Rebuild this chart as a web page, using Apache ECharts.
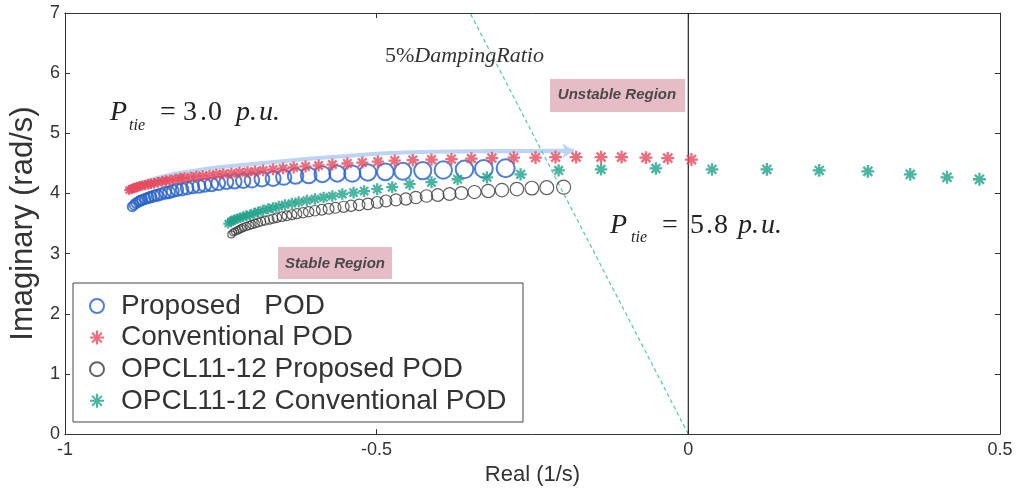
<!DOCTYPE html>
<html><head><meta charset="utf-8">
<script src="https://cdn.jsdelivr.net/npm/echarts@6/dist/echarts.min.js"></script>
<style>html,body{margin:0;padding:0;background:#fff}#c{width:1019px;height:491px}</style>
</head><body><div id="c"></div>
<script>
// ---------- data ----------
const xTickInterval = 0.5;
const yTickInterval = 1;
const seriesNames = ['Proposed   POD', 'Conventional POD', 'OPCL11-12 Proposed POD', 'OPCL11-12 Conventional POD'];

const propX = [-0.892,-0.889,-0.886,-0.882,-0.879,-0.876,-0.871,-0.866,-0.862,-0.857,-0.852,-0.846,-0.839,-0.833,-0.827,-0.820,-0.812,-0.804,-0.795,-0.785,-0.776,-0.765,-0.754,-0.741,-0.728,-0.714,-0.700,-0.684,-0.666,-0.649,-0.630,-0.609,-0.587,-0.563,-0.539,-0.514,-0.486,-0.458,-0.426,-0.393,-0.359,-0.328,-0.293];
const propY = [3.78,3.81,3.84,3.86,3.88,3.89,3.91,3.93,3.94,3.96,3.97,3.99,4.01,4.02,4.04,4.06,4.07,4.09,4.11,4.12,4.14,4.15,4.17,4.19,4.20,4.21,4.22,4.24,4.25,4.27,4.29,4.30,4.32,4.33,4.33,4.35,4.36,4.37,4.38,4.39,4.40,4.41,4.42];

const convX = [-0.897,-0.893,-0.890,-0.887,-0.884,-0.880,-0.876,-0.871,-0.866,-0.862,-0.857,-0.851,-0.844,-0.838,-0.831,-0.823,-0.815,-0.808,-0.798,-0.789,-0.779,-0.768,-0.757,-0.746,-0.733,-0.720,-0.707,-0.695,-0.682,-0.666,-0.650,-0.633,-0.614,-0.593,-0.571,-0.547,-0.523,-0.498,-0.471,-0.442,-0.412,-0.380,-0.348,-0.315,-0.280,-0.245,-0.213,-0.180,-0.140,-0.107,-0.068,-0.033,0.005];
const convY = [4.056,4.073,4.089,4.097,4.105,4.122,4.130,4.138,4.154,4.163,4.171,4.187,4.203,4.212,4.220,4.236,4.253,4.261,4.269,4.285,4.293,4.302,4.318,4.326,4.334,4.351,4.359,4.367,4.383,4.400,4.416,4.432,4.449,4.465,4.481,4.498,4.514,4.530,4.547,4.555,4.563,4.571,4.580,4.588,4.596,4.596,4.604,4.604,4.604,4.604,4.596,4.588,4.563];

const opPropX = [-0.733,-0.730,-0.727,-0.723,-0.720,-0.717,-0.714,-0.709,-0.704,-0.700,-0.695,-0.690,-0.685,-0.679,-0.672,-0.666,-0.660,-0.652,-0.644,-0.636,-0.628,-0.618,-0.609,-0.599,-0.588,-0.577,-0.566,-0.553,-0.541,-0.528,-0.514,-0.499,-0.485,-0.469,-0.453,-0.437,-0.420,-0.402,-0.383,-0.364,-0.343,-0.321,-0.299,-0.275,-0.251,-0.227,-0.200];
const opPropY = [3.320,3.353,3.369,3.386,3.402,3.418,3.435,3.451,3.467,3.484,3.500,3.516,3.533,3.549,3.566,3.582,3.598,3.615,3.631,3.647,3.664,3.680,3.696,3.713,3.729,3.745,3.762,3.778,3.795,3.811,3.827,3.852,3.876,3.893,3.909,3.934,3.958,3.974,3.991,4.007,4.024,4.040,4.056,4.073,4.089,4.097,4.105];

const opConvX = [-0.738,-0.734,-0.731,-0.728,-0.723,-0.719,-0.714,-0.709,-0.703,-0.696,-0.690,-0.682,-0.674,-0.666,-0.657,-0.647,-0.636,-0.625,-0.612,-0.599,-0.585,-0.571,-0.555,-0.537,-0.520,-0.499,-0.475,-0.447,-0.412,-0.370,-0.323,-0.269,-0.208,-0.140,-0.052,0.038,0.126,0.210,0.288,0.356,0.415,0.467];
const opConvY = [3.500,3.533,3.549,3.566,3.582,3.598,3.615,3.631,3.647,3.672,3.696,3.721,3.745,3.762,3.786,3.811,3.835,3.860,3.884,3.909,3.934,3.958,3.991,4.015,4.040,4.073,4.105,4.154,4.187,4.236,4.269,4.318,4.383,4.400,4.416,4.400,4.400,4.383,4.367,4.318,4.269,4.236];

const arrowX = [-0.903,-0.870,-0.836,-0.797,-0.757,-0.677,-0.566,-0.455,-0.328,-0.184];
const arrowY = [4.07,4.20,4.30,4.37,4.43,4.51,4.61,4.68,4.70,4.71];

const dampX = [0, -0.35];
const dampY = [0, 7];
const boundaryX = [0, 0];
const boundaryY = [0, 7];

// ---------- helpers ----------
const zip = (a, b) => a.map((v, i) => [v, b[i]]);
const STAR = 'path://M10 0L10 20M0 10L20 10M3 3L17 17M3 17L17 3';
const SANS = 'Liberation Sans';
const SERIF = 'Liberation Serif';
const growSize = (a, b, n) => (v, p) => a + (b - a) * p.dataIndex / (n - 1);

function mathLabel(x0, yb, pieces) {
  return pieces.map(([t, dx, it, fs, dy]) => ({
    type: 'text', x: x0 + dx, y: yb + (dy || 0) - 0.33 * fs, z: 100,
    style: { text: t, fontFamily: SERIF, fontSize: fs, fontStyle: it ? 'italic' : 'normal',
             fill: '#222', verticalAlign: 'middle', align: 'left' }
  }));
}

const chart = echarts.init(document.getElementById('c'));
const n = (arr) => arr.length;
const lastSeg = [[arrowX[n(arrowX)-2], arrowY[n(arrowY)-2]], [arrowX[n(arrowX)-1], arrowY[n(arrowY)-1]]];

const axisCommon = {
  min: -1, max: 0.5, interval: xTickInterval,
  axisLine: { onZero: false, lineStyle: { color: '#333', width: 1 } },
  axisTick: { inside: true, length: 5, lineStyle: { color: '#333' } },
  splitLine: { show: false }
};
const yCommon = {
  min: 0, max: 7, interval: yTickInterval,
  axisLine: { show: true, onZero: false, lineStyle: { color: '#333', width: 1 } },
  axisTick: { show: true, inside: true, length: 5, lineStyle: { color: '#333' } },
  splitLine: { show: false }
};

chart.setOption({
  animation: false,
  backgroundColor: '#fff',
  grid: { left: 57, right: 19, top: 13, bottom: 50 },
  xAxis: [
    Object.assign({ type: 'value', position: 'bottom', name: 'Real (1/s)', nameLocation: 'middle', nameGap: 29,
      nameTextStyle: { fontFamily: SANS, fontSize: 22, color: '#333' },
      axisLabel: { fontFamily: SANS, fontSize: 18, color: '#333', margin: 7 } }, axisCommon),
    Object.assign({ type: 'value', position: 'top', axisLabel: { show: false } }, axisCommon)
  ],
  yAxis: [
    Object.assign({ type: 'value', position: 'left', name: 'Imaginary (rad/s)', nameLocation: 'middle', nameGap: 22,
      nameTextStyle: { fontFamily: SANS, fontSize: 31, color: '#333' },
      axisLabel: { fontFamily: SANS, fontSize: 18, color: '#333', margin: 5 } }, yCommon),
    Object.assign({ type: 'value', position: 'right', axisLabel: { show: false } }, yCommon)
  ],
  legend: {
    data: seriesNames, orient: 'vertical', left: 84, top: 287, itemWidth: 22, itemHeight: 14, itemGap: 3.6,
    textStyle: { fontFamily: SANS, fontSize: 28, color: '#333', lineHeight: 27, padding: [0, 0, 0, 8] },
    selectedMode: false
  },
  graphic: [
    { type: 'rect', shape: { x: 73, y: 283, width: 450, height: 139 }, style: { fill: 'rgba(0,0,0,0)', stroke: '#444', lineWidth: 1 }, z: 50 },
    { type: 'rect', shape: { x: 550, y: 79, width: 135, height: 33 }, style: { fill: '#e6bcc6' }, z: 1 },
    { type: 'text', x: 617, y: 95, z: 100, style: { text: 'Unstable Region', fontFamily: SANS, fontSize: 15, fontWeight: 'bold', fontStyle: 'italic', fill: '#4a4a4a', align: 'center', verticalAlign: 'middle' } },
    { type: 'rect', shape: { x: 278, y: 247, width: 114, height: 32 }, style: { fill: '#e6bcc6' }, z: 1 },
    { type: 'text', x: 335, y: 264, z: 100, style: { text: 'Stable Region', fontFamily: SANS, fontSize: 15, fontWeight: 'bold', fontStyle: 'italic', fill: '#4a4a4a', align: 'center', verticalAlign: 'middle' } },
    { type: 'text', x: 385, y: 56, z: 100, style: { text: '{u|5%}{i|DampingRatio}', rich: {
        u: { fontFamily: SERIF, fontSize: 22, fill: '#333' },
        i: { fontFamily: SERIF, fontSize: 22, fontStyle: 'italic', fill: '#333' } }, verticalAlign: 'middle' } }
  ].concat(
    mathLabel(110, 122, [['P',0,1,28],['tie',19,1,16,9],['=',50,0,28],['3',73,0,28],['.',90,0,28],['0',98,0,28],['p.',126,1,28],['u.',149,1,28]]),
    mathLabel(610, 235, [['P',0,1,28],['tie',21,1,16,8],['=',52,0,28],['5',80,0,28],['.',96,0,28],['8',104,0,28],['p.',128,1,28],['u.',151,1,28]])
  ),
  series: [
    { type: 'line', name: 'arrow', data: zip(arrowX, arrowY), smooth: true, symbol: 'none', silent: true, z: 1,
      lineStyle: { color: '#bcd3f2', width: 4 } },
    { type: 'lines', coordinateSystem: 'cartesian2d', silent: true, z: 1, symbol: ['none', 'arrow'], symbolSize: 11,
      data: [{ coords: lastSeg }], lineStyle: { color: '#bcd3f2', width: 4, opacity: 1 } },
    { type: 'line', name: 'damp', data: zip(dampX, dampY), symbol: 'none', silent: true, z: 2,
      lineStyle: { color: '#55cc99', width: 1.2, type: [4, 3] } },
    { type: 'line', name: 'boundary', data: zip(boundaryX, boundaryY), symbol: 'none', silent: true, z: 2,
      lineStyle: { color: '#222', width: 1.2 } },
    { type: 'scatter', name: seriesNames[0], data: zip(propX, propY), symbol: 'circle', z: 3,
      symbolSize: growSize(9, 18, propX.length),
      itemStyle: { color: 'rgba(0,0,0,0)', borderColor: '#2560c8', borderWidth: 2 } },
    { type: 'scatter', name: seriesNames[1], data: zip(convX, convY), symbol: STAR, symbolKeepAspect: true, z: 4,
      symbolSize: growSize(10, 13, convX.length),
      itemStyle: { color: 'rgba(0,0,0,0)', borderColor: '#e64a5e', borderWidth: 2.3 } },
    { type: 'scatter', name: seriesNames[2], data: zip(opPropX, opPropY), symbol: 'circle', z: 3,
      symbolSize: growSize(7, 14, opPropX.length),
      itemStyle: { color: 'rgba(0,0,0,0)', borderColor: '#3a3a3a', borderWidth: 1.2 } },
    { type: 'scatter', name: seriesNames[3], data: zip(opConvX, opConvY), symbol: STAR, symbolKeepAspect: true, z: 4,
      symbolSize: growSize(10, 13, opConvX.length),
      itemStyle: { color: 'rgba(0,0,0,0)', borderColor: '#1fa389', borderWidth: 2.3 } }
  ]
});
</script></body></html>
